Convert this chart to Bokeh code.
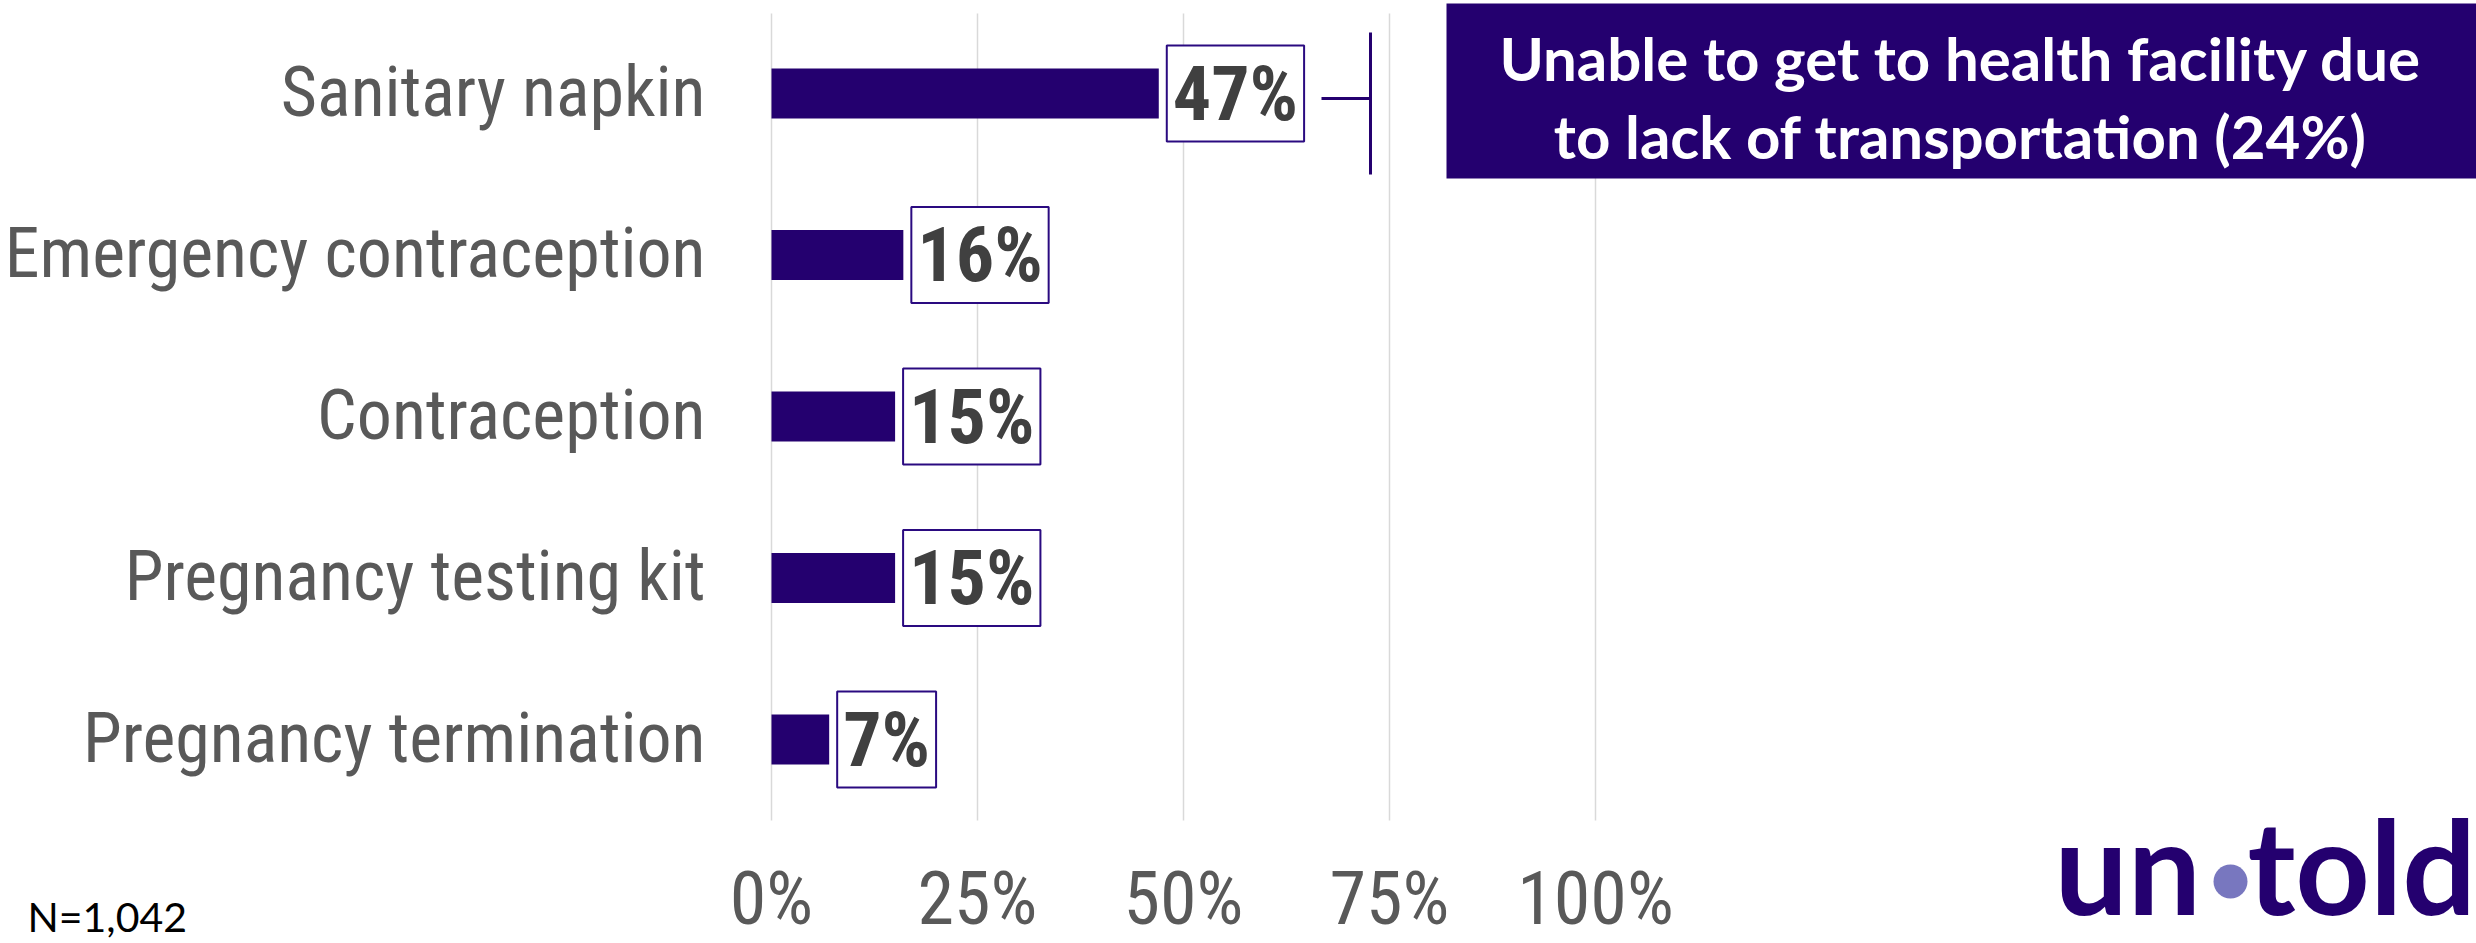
from bokeh.plotting import figure
from bokeh.models import Range1d, ColumnDataSource
from bokeh.core.properties import value
from bokeh.embed import file_html
from bokeh.resources import INLINE

# ---------------- data ----------------
categories = ["Sanitary napkin", "Emergency contraception", "Contraception",
              "Pregnancy testing kit", "Pregnancy termination"]
values = [47, 16, 15, 15, 7]
x_ticks = [0, 25, 50, 75, 100]
x_tick_labels = ["0%", "25%", "50%", "75%", "100%"]
callout_lines = ["Unable to get to health facility due", "to lack of transportation (24%)"]
sample_note = "N=1,042"
logo_parts = ["un", "told"]

# ---------------- layout constants (page pixels) ----------------
W, H = 2476, 943
X0 = 771              # page x of 0%
PXU = 8.24            # px per percentage point
ROW = 161.5           # px per category row
ROW0 = 93             # page y of first row centre

PURPLE = "#24006F"
GREY = "#595959"
COND = "Roboto Condensed, DejaVu Sans Condensed, Roboto"


def rx(px):
    return (px - X0) / PXU


def ry(py):
    return (py - ROW0) / ROW


idx = list(range(len(categories)))
src = ColumnDataSource(dict(y=idx, v=values, lab=[f"{v}%" for v in values], cat=categories))

p = figure(width=W, height=H, x_range=Range1d(rx(0), rx(W)), y_range=Range1d(ry(H), ry(0)),
           output_backend="svg", toolbar_location=None,
           x_axis_location=None, y_axis_location=None,
           min_border_left=0, min_border_right=0, min_border_top=0, min_border_bottom=0)
p.outline_line_color = None
p.grid.visible = False
p.background_fill_color = "white"
p.border_fill_color = "white"

# vertical gridlines at the percentage ticks
p.segment(x0=x_ticks, x1=x_ticks, y0=ry(13), y1=ry(820), line_color="#D9D9D9",
          line_width=1.5, level="underlay")

# bars
p.hbar(y="y", left=0, right="v", height=0.31, source=src, fill_color=PURPLE,
       line_color=None)

# category labels (left of the 0% line)
p.text(x=rx(705), y="y", text="cat", source=src, text_align="right", text_baseline="middle",
       y_offset=-2,
       text_font=value(COND), text_font_size="70px", text_color=GREY)

# value labels in boxes
p.text(x="v", y="y", text="lab", source=src, x_offset=8,
       text_align="left", text_baseline="middle",
       text_font=value(COND), text_font_style="bold", text_font_size="76px",
       text_color="#404040", background_fill_color="white",
       border_line_color="#2A0A80", border_line_width=2,
       padding=dict(left=6, right=6, top=3, bottom=3))

# x tick labels
p.text(x=x_ticks, y=[ry(898)] * len(x_ticks), text=x_tick_labels,
       text_align="center", text_baseline="middle",
       text_font=value(COND), text_font_size="74px", text_color=GREY)

# bracket connector
p.line(x=[rx(1370), rx(1370)], y=[ry(32), ry(174)], line_color=PURPLE, line_width=3)
p.line(x=[rx(1321), rx(1370)], y=[ry(98), ry(98)], line_color=PURPLE, line_width=3)

# callout box + text
p.quad(left=[rx(1446)], right=[rx(W + 10)], top=[ry(3)], bottom=[ry(178)],
       fill_color=PURPLE, line_color=None)
p.text(x=[rx(1960)] * 2, y=[ry(57), ry(135)], text=callout_lines,
       text_align="center", text_baseline="middle", text_color="white",
       text_font=value("Lato"), text_font_style="bold", text_font_size="60px")

# sample size note
p.text(x=[rx(27)], y=[ry(916)], text=[sample_note], text_align="left",
       text_baseline="middle", text_color="black",
       text_font=value("Lato"), text_font_size="41px")

# logo
p.text(x=[rx(2054), rx(2247)], y=[ry(864), ry(864)], text=logo_parts,
       text_align="left", text_baseline="middle", text_color=PURPLE,
       text_font=value("Lato"), text_font_style="bold", text_font_size="130px")
p.scatter(x=[rx(2230)], y=[ry(881)], size=34, marker="circle", fill_color="#7877BF",
          line_color=None)

open("out.html", "w").write(file_html(p, INLINE))
